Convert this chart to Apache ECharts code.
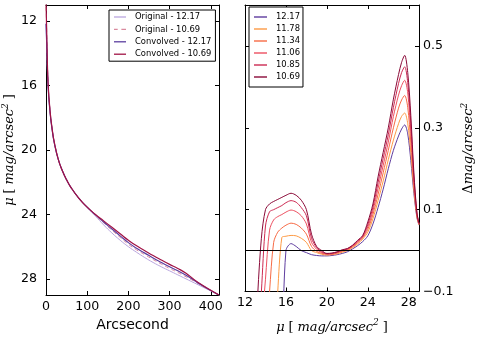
<!DOCTYPE html>
<html>
<head>
<meta charset="utf-8">
<script src="https://cdn.jsdelivr.net/npm/echarts@6/dist/echarts.min.js"></script>
<style>
  html, body { margin: 0; padding: 0; background: #fff; }
  #main01 { width: 479px; height: 339px; }
</style>
</head>
<body>
<div id="main01"></div>
<script>
// left panel: surface brightness profile
var radius = [0, 2, 5, 10, 15, 20, 30, 40, 50, 60, 80, 100, 120, 140, 160, 180, 200, 220, 240, 260, 280, 300, 320, 340, 360, 380, 400, 420];
var orig1217 = [12.17, 13.6, 16.0, 17.7, 18.75, 19.55, 20.6, 21.3, 21.85, 22.3, 23.0, 23.58, 24.1, 24.65, 25.15, 25.6, 26.0, 26.35, 26.68, 26.98, 27.25, 27.5, 27.75, 28.0, 28.25, 28.5, 28.75, 29.0];
var orig1069 = [10.69, 13.0, 15.8, 17.6, 18.7, 19.5, 20.6, 21.3, 21.85, 22.3, 23.0, 23.56, 24.05, 24.52, 24.98, 25.42, 25.85, 26.2, 26.5, 26.8, 27.08, 27.35, 27.6, 27.87, 28.15, 28.45, 28.73, 29.0];
var conv1217 = [12.17, 13.6, 16.0, 17.7, 18.75, 19.55, 20.6, 21.3, 21.85, 22.3, 23.0, 23.55, 24.02, 24.47, 24.9, 25.33, 25.75, 26.1, 26.4, 26.7, 26.98, 27.25, 27.5, 27.78, 28.1, 28.42, 28.72, 29.0];
var conv1069 = [10.69, 13.0, 15.8, 17.6, 18.7, 19.5, 20.6, 21.3, 21.85, 22.3, 23.0, 23.55, 24.0, 24.4, 24.8, 25.2, 25.6, 25.95, 26.25, 26.55, 26.83, 27.1, 27.35, 27.65, 28.05, 28.4, 28.7, 29.0];

// right panel: delta mag vs mu
var mu = [12.8, 13.2, 13.6, 14.0, 14.4, 14.8, 15.2, 15.6, 16.0, 16.5, 17.0, 17.5, 18.0, 18.5, 19.0, 19.5, 20.0, 20.5, 21.0, 21.5, 22.0, 22.5, 23.0, 23.5, 24.0, 24.5, 25.0, 25.5, 26.0, 26.5, 27.0, 27.3, 27.6, 27.9, 28.2, 28.5, 28.8, 29.0];
var d1217 = [-0.8, -0.7, -0.6, -0.55, -0.5, -0.45, -0.4, -0.25, 0.0, 0.017, 0.01, 0.0, -0.005, -0.01, -0.012, -0.013, -0.013, -0.012, -0.01, -0.007, -0.003, 0.004, 0.012, 0.022, 0.036, 0.065, 0.105, 0.15, 0.2, 0.245, 0.28, 0.297, 0.307, 0.285, 0.22, 0.14, 0.08, 0.062];
var d1178 = [-0.7, -0.6, -0.5, -0.45, -0.38, -0.3, -0.1, 0.032, 0.035, 0.037, 0.036, 0.03, 0.02, 0.0, -0.005, -0.009, -0.011, -0.01, -0.008, -0.004, 0.0, 0.007, 0.016, 0.028, 0.045, 0.078, 0.122, 0.17, 0.222, 0.27, 0.31, 0.328, 0.336, 0.31, 0.24, 0.15, 0.082, 0.063];
var d1134 = [-0.6, -0.5, -0.4, -0.25, -0.1, 0.02, 0.045, 0.055, 0.062, 0.067, 0.064, 0.055, 0.04, 0.01, -0.002, -0.007, -0.009, -0.009, -0.006, -0.002, 0.002, 0.009, 0.019, 0.031, 0.052, 0.088, 0.137, 0.19, 0.245, 0.3, 0.348, 0.368, 0.379, 0.35, 0.265, 0.16, 0.085, 0.064];
var d1106 = [-0.5, -0.35, -0.2, -0.07, 0.05, 0.075, 0.083, 0.088, 0.094, 0.099, 0.095, 0.085, 0.065, 0.02, 0.003, -0.005, -0.008, -0.008, -0.005, 0.0, 0.003, 0.011, 0.021, 0.033, 0.058, 0.097, 0.152, 0.208, 0.265, 0.328, 0.38, 0.403, 0.416, 0.385, 0.29, 0.17, 0.087, 0.065];
var d1085 = [-0.45, -0.25, -0.1, 0.06, 0.095, 0.1, 0.105, 0.11, 0.117, 0.122, 0.118, 0.105, 0.085, 0.03, 0.007, -0.003, -0.008, -0.007, -0.004, 0.001, 0.004, 0.012, 0.023, 0.035, 0.064, 0.106, 0.166, 0.225, 0.283, 0.35, 0.408, 0.435, 0.449, 0.41, 0.31, 0.18, 0.09, 0.066];
var d1069 = [-0.4, -0.13, 0.03, 0.1, 0.114, 0.12, 0.125, 0.13, 0.135, 0.14, 0.135, 0.123, 0.1, 0.04, 0.01, 0.0, -0.007, -0.006, -0.003, 0.002, 0.005, 0.013, 0.025, 0.037, 0.07, 0.114, 0.18, 0.24, 0.3, 0.37, 0.43, 0.46, 0.477, 0.435, 0.33, 0.19, 0.092, 0.067];

var leftYTicks = [12, 16, 20, 24, 28];
var leftXTicks = [0, 100, 200, 300, 400];
var rightXTicks = [12, 16, 20, 24, 28];
var rightYTicks = [-0.1, 0.1, 0.3, 0.5];

function pairs(xs, ys) {
    return xs.map(function (x, i) { return [x, ys[i]]; });
}

var myChart = echarts.init(document.getElementById('main01'));

var solidIcon = 'path://M0,0h13v1.4h-13z';
var dashIcon = 'path://M0,0h4v1.4h-4zM8,0h5v1.4h-5z';

var nameRich = {
    it: {fontFamily: 'DejaVu Serif', fontStyle: 'italic', fontSize: 13, color: '#000'},
    up: {fontFamily: 'DejaVu Serif', fontSize: 13, color: '#000'},
    sup: {fontFamily: 'DejaVu Serif', fontStyle: 'italic', fontSize: 9, color: '#000', padding: [0, 0, 9, 0]}
};
var muName = '{it|μ} {up|[} {it|mag/arcsec}{sup|2} {up|]}';

function frameAxis(extra) {
    var base = {
        type: 'value',
        axisLine: {show: true, onZero: false, lineStyle: {color: '#000', width: 1}},
        axisTick: {show: true, inside: true, length: 4, lineStyle: {color: '#000'}},
        axisLabel: {show: false},
        splitLine: {show: false}
    };
    return Object.assign(base, extra);
}

var option = {
    backgroundColor: '#ffffff',
    animation: false,
    textStyle: {fontFamily: 'DejaVu Sans', color: '#000'},
    grid: [
        {left: 45, right: 260, top: 5, bottom: 44},
        {left: 245, right: 60, top: 5, bottom: 44}
    ],
    legend: [
        {
            data: [
                {name: 'Original - 12.17', icon: solidIcon},
                {name: 'Original - 10.69', icon: dashIcon},
                {name: 'Convolved - 12.17', icon: solidIcon},
                {name: 'Convolved - 10.69', icon: solidIcon}
            ],
            orient: 'vertical',
            left: 109, top: 10,
            itemWidth: 12, itemHeight: 1.4, itemGap: 0.4,
            padding: [1, 4, 1, 5],
            borderColor: '#000', borderWidth: 1, borderRadius: 0,
            backgroundColor: '#fff',
            textStyle: {fontSize: 8.4, lineHeight: 12, color: '#000', fontFamily: 'DejaVu Sans', padding: [0, 0, 0, 4]}
        },
        {
            data: [
                {name: '12.17', icon: solidIcon},
                {name: '11.78', icon: solidIcon},
                {name: '11.34', icon: solidIcon},
                {name: '11.06', icon: solidIcon},
                {name: '10.85', icon: solidIcon},
                {name: '10.69', icon: solidIcon}
            ],
            orient: 'vertical',
            left: 249, top: 7,
            itemWidth: 13, itemHeight: 1.4, itemGap: 0,
            padding: [4, 3, 4, 5],
            borderColor: '#000', borderWidth: 1, borderRadius: 0,
            backgroundColor: '#fff',
            textStyle: {fontSize: 8.4, lineHeight: 12, color: '#000', fontFamily: 'DejaVu Sans', padding: [0, 0, 0, 4]}
        }
    ],
    xAxis: [
        frameAxis({
            gridIndex: 0, position: 'bottom', min: 0, max: 420,
            axisTick: {show: true, inside: true, length: 4, lineStyle: {color: '#000'}, customValues: leftXTicks},
            axisLabel: {show: true, fontSize: 12.6, color: '#000', margin: 5, customValues: leftXTicks},
            name: 'Arcsecond', nameLocation: 'middle', nameGap: 20,
            nameTextStyle: {fontSize: 14, color: '#000', fontFamily: 'DejaVu Sans'}
        }),
        frameAxis({
            gridIndex: 0, position: 'top', min: 0, max: 420,
            axisTick: {show: true, inside: true, length: 4, lineStyle: {color: '#000'}, customValues: leftXTicks}
        }),
        frameAxis({
            gridIndex: 1, position: 'bottom', min: 12, max: 29,
            axisTick: {show: true, inside: true, length: 4, lineStyle: {color: '#000'}, customValues: rightXTicks},
            axisLabel: {show: true, fontSize: 12.6, color: '#000', margin: 5, customValues: rightXTicks},
            name: muName, nameLocation: 'middle', nameGap: 27,
            nameTextStyle: {rich: nameRich}
        }),
        frameAxis({
            gridIndex: 1, position: 'top', min: 12, max: 29,
            axisTick: {show: true, inside: true, length: 4, lineStyle: {color: '#000'}, customValues: rightXTicks}
        })
    ],
    yAxis: [
        frameAxis({
            gridIndex: 0, position: 'left', min: 11, max: 29, inverse: true,
            axisTick: {show: true, inside: true, length: 4, lineStyle: {color: '#000'}, customValues: leftYTicks},
            axisLabel: {show: true, fontSize: 12.6, color: '#000', margin: 9, customValues: leftYTicks},
            name: muName, nameLocation: 'middle', nameGap: 27, nameRotate: 90,
            nameTextStyle: {rich: nameRich}
        }),
        frameAxis({
            gridIndex: 0, position: 'right', min: 11, max: 29, inverse: true,
            axisTick: {show: true, inside: true, length: 4, lineStyle: {color: '#000'}, customValues: leftYTicks}
        }),
        frameAxis({
            gridIndex: 1, position: 'right', min: -0.1, max: 0.6,
            axisTick: {show: true, inside: true, length: 4, lineStyle: {color: '#000'}, customValues: rightYTicks},
            axisLabel: {
                show: true, fontSize: 12.6, color: '#000', margin: 4, customValues: rightYTicks,
                formatter: function (v) { return v < 0 ? '\u2212' + Math.abs(v).toFixed(1) : v.toFixed(1); }
            },
            name: '{up|Δ}{it|mag/arcsec}{sup|2}', nameLocation: 'middle', nameGap: 41, nameRotate: 90,
            nameTextStyle: {rich: nameRich}
        }),
        frameAxis({
            gridIndex: 1, position: 'left', min: -0.1, max: 0.6,
            axisTick: {show: true, inside: true, length: 4, lineStyle: {color: '#000'}, customValues: rightYTicks}
        })
    ],
    series: [
        {
            name: 'Original - 12.17', type: 'line', xAxisIndex: 0, yAxisIndex: 0,
            symbol: 'none', smooth: true, color: '#b9a6de',
            lineStyle: {width: 1, color: '#b9a6de'},
            data: pairs(radius, orig1217)
        },
        {
            name: 'Original - 10.69', type: 'line', xAxisIndex: 0, yAxisIndex: 0,
            symbol: 'none', smooth: true, color: '#d98a9e',
            lineStyle: {width: 1, color: '#d98a9e', type: [4, 3]},
            data: pairs(radius, orig1069)
        },
        {
            name: 'Convolved - 12.17', type: 'line', xAxisIndex: 0, yAxisIndex: 0,
            symbol: 'none', smooth: true, color: '#5a3d9e',
            lineStyle: {width: 1.2, color: '#5a3d9e'},
            data: pairs(radius, conv1217)
        },
        {
            name: 'Convolved - 10.69', type: 'line', xAxisIndex: 0, yAxisIndex: 0,
            symbol: 'none', smooth: true, color: '#a01244',
            lineStyle: {width: 1.2, color: '#a01244'},
            data: pairs(radius, conv1069)
        },
        {
            name: '12.17', type: 'line', xAxisIndex: 2, yAxisIndex: 2,
            symbol: 'none', smooth: 0.3, color: '#5e3c9e',
            lineStyle: {width: 1, color: '#5e3c9e'},
            data: pairs(mu, d1217),
            markLine: {
                silent: true, symbol: 'none', label: {show: false},
                lineStyle: {color: '#000', width: 1, type: 'solid'},
                data: [{yAxis: 0}]
            }
        },
        {
            name: '11.78', type: 'line', xAxisIndex: 2, yAxisIndex: 2,
            symbol: 'none', smooth: 0.3, color: '#fd9a45',
            lineStyle: {width: 1, color: '#fd9a45'},
            data: pairs(mu, d1178)
        },
        {
            name: '11.34', type: 'line', xAxisIndex: 2, yAxisIndex: 2,
            symbol: 'none', smooth: 0.3, color: '#f66a45',
            lineStyle: {width: 1, color: '#f66a45'},
            data: pairs(mu, d1134)
        },
        {
            name: '11.06', type: 'line', xAxisIndex: 2, yAxisIndex: 2,
            symbol: 'none', smooth: 0.3, color: '#ec5060',
            lineStyle: {width: 1, color: '#ec5060'},
            data: pairs(mu, d1106)
        },
        {
            name: '10.85', type: 'line', xAxisIndex: 2, yAxisIndex: 2,
            symbol: 'none', smooth: 0.3, color: '#cc2a52',
            lineStyle: {width: 1, color: '#cc2a52'},
            data: pairs(mu, d1085)
        },
        {
            name: '10.69', type: 'line', xAxisIndex: 2, yAxisIndex: 2,
            symbol: 'none', smooth: 0.3, color: '#8a0a38',
            lineStyle: {width: 1, color: '#8a0a38'},
            data: pairs(mu, d1069)
        }
    ]
};

myChart.setOption(option);
</script>
</body>
</html>
